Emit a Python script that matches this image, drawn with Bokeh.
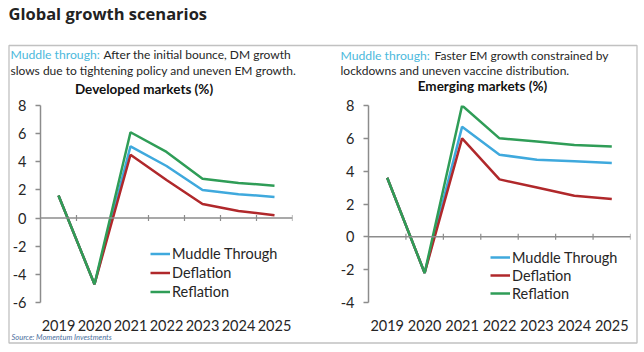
import math
from bokeh.plotting import figure
from bokeh.models import (Label, BoxAnnotation, Span, Legend, LegendItem,
                          FixedTicker, ColumnDataSource, GridBox)
from bokeh.layouts import row
from bokeh.embed import file_html
from bokeh.resources import INLINE

# ---------------- data ----------------
years = ["2019", "2020", "2021", "2022", "2023", "2024", "2025"]
series_names = ["Muddle Through", "Deflation", "Reflation"]

dm_muddle = [1.6, -4.7, 5.1, 3.7, 2.0, 1.7, 1.5]
dm_deflation = [1.6, -4.7, 4.5, 2.7, 1.0, 0.5, 0.2]
dm_reflation = [1.6, -4.7, 6.1, 4.7, 2.8, 2.5, 2.3]

em_muddle = [3.6, -2.2, 6.7, 5.0, 4.7, 4.6, 4.5]
em_deflation = [3.6, -2.2, 6.0, 3.5, 3.0, 2.5, 2.3]
em_reflation = [3.6, -2.2, 8.0, 6.0, 5.8, 5.6, 5.5]

dm_ticks = [-6, -4, -2, 0, 2, 4, 6, 8]
em_ticks = [-4, -2, 0, 2, 4, 6, 8]

page_title = "Global growth scenarios"
dm_title = "Developed markets (%)"
em_title = "Emerging markets (%)"
dm_note = ["Muddle through:", "After the initial bounce, DM growth",
           "slows due to tightening policy and uneven EM growth."]
em_note = ["Muddle through:", "Faster EM growth constrained by",
           "lockdowns and uneven vaccine distribution."]
source_text = "Source: Momentum Investments"

# ---------------- style ----------------
COLORS = ["#3fa9dd", "#b0282b", "#2f9d57"]
AXIS = "#8c8c8c"
TEXT = "#262626"
BLUE_TXT = "#4cb9dc"
FONT = "Lato"


def panel(values, ticks, ymin, ymax, left, right, top, bottom, legend_xy, legend_row):
    x_idx = list(range(len(years)))
    p = figure(width=322, height=352, output_backend="svg", toolbar_location=None,
               x_range=(-0.5, len(years) - 0.5), y_range=(ymin, ymax),
               min_border_left=left, min_border_right=right,
               min_border_top=top, min_border_bottom=bottom)
    p.outline_line_color = None
    p.grid.grid_line_color = None
    p.background_fill_alpha = 0
    p.border_fill_alpha = 0

    ya = p.yaxis[0]
    ya.ticker = FixedTicker(ticks=ticks)
    ya.major_label_overrides = {t: str(t) for t in ticks}
    ya.axis_line_color = AXIS
    ya.axis_line_width = 1.5
    ya.major_tick_line_color = AXIS
    ya.major_tick_line_width = 1.5
    ya.major_tick_out = 5
    ya.major_tick_in = 0
    ya.minor_tick_line_color = None
    ya.major_label_standoff = 9
    ya.major_label_text_font = FONT
    ya.major_label_text_font_size = "14.5px"
    ya.major_label_text_color = TEXT

    xa = p.xaxis[0]
    xa.ticker = FixedTicker(ticks=x_idx)
    xa.major_label_overrides = {i: y for i, y in enumerate(years)}
    xa.axis_line_color = None
    xa.major_tick_line_color = None
    xa.minor_tick_line_color = None
    xa.major_label_standoff = 11
    xa.major_label_text_font = FONT
    xa.major_label_text_font_size = "14.5px"
    xa.major_label_text_color = TEXT

    p.add_layout(Span(location=0, dimension="width", line_color=AXIS, line_width=1.5))
    bx = [i + 0.5 for i in x_idx]
    p.scatter(bx, [0] * len(bx), marker="dash", angle=math.pi / 2, size=6,
              line_color=AXIS, line_width=1.2)

    items = []
    for name, vals, col in zip(series_names, values, COLORS):
        src = ColumnDataSource(dict(x=x_idx, y=vals))
        r = p.line("x", "y", source=src, line_color=col, line_width=2.5)
        items.append(LegendItem(label=name, renderers=[r]))

    leg = Legend(items=items, location=legend_xy, padding=0, margin=0, spacing=0,
                 glyph_width=20, glyph_height=legend_row, label_height=legend_row,
                 label_standoff=2, border_line_color=None, background_fill_alpha=0,
                 label_text_font=FONT, label_text_font_size="14.5px",
                 label_text_color=TEXT)
    p.add_layout(leg, "center")
    return p


p1 = panel([dm_muddle, dm_deflation, dm_reflation], dm_ticks, -6, 8,
           40, 30, 105, 50, (110, 1), 19)
p2 = panel([em_muddle, em_deflation, em_reflation], em_ticks, -4, 8,
           46, 14, 105, 49, (122, 0), 18)

# ---------------- background sheet: page coordinates ----------------
bg = figure(width=644, height=352, output_backend="svg", toolbar_location=None,
            x_range=(0, 644), y_range=(352, 0), min_border=0,
            x_axis_location=None, y_axis_location=None)
bg.outline_line_color = None
bg.grid.grid_line_color = None
bg.background_fill_color = "white"
bg.border_fill_color = "white"


def lbl(px, py, text, **kw):
    args = dict(x=px, y=py, text=text, text_baseline="middle", text_font=FONT,
                text_font_size="12px", text_color=TEXT)
    args.update(kw)
    bg.add_layout(Label(**args))


bg.add_layout(BoxAnnotation(left=8.5, right=636.5, top=45, bottom=342.5,
                            fill_alpha=0, line_color="#333333", line_width=1.3))

lbl(8, 12.5, page_title, text_font="Open Sans", text_font_size="16.5px",
    text_font_style="bold", text_color="#222222")
lbl(10, 53.5, dm_note[0], text_color=BLUE_TXT, text_font_size="12.2px")
lbl(103, 53.5, dm_note[1])
lbl(10, 69.5, dm_note[2])
lbl(143.5, 88, dm_title, text_align="center", text_font_size="13.5px",
    text_font_style="bold", text_color="#111111")
lbl(11, 337, source_text, text_font_size="7.5px", text_font_style="italic",
    text_color="#4b6f9e")

lbl(340, 55, em_note[0], text_color=BLUE_TXT, text_font_size="12.2px")
lbl(434, 55, em_note[1])
lbl(340, 70, em_note[2])
lbl(482, 85, em_title, text_align="center", text_font_size="13.5px",
    text_font_style="bold", text_color="#111111")

charts = row(p1, p2)
layout = GridBox(children=[(bg, 0, 0), (charts, 0, 0)])
open("out.html", "w").write(file_html(layout, INLINE))
